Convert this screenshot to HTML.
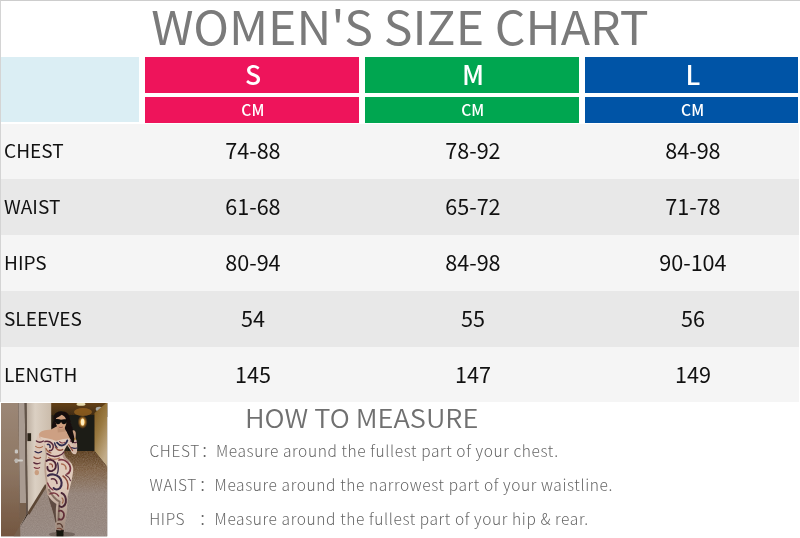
<!DOCTYPE html>
<html lang="en">
<head>
<meta charset="utf-8">
<title>Women's Size Chart</title>
<style>
html,body{margin:0;padding:0;background:#fff;}
body{width:800px;height:538px;position:relative;overflow:hidden;font-family:"Noto Sans CJK SC","Liberation Sans",sans-serif;color:#111;}
.abs{position:absolute;}
.frame{left:0;top:0;width:800px;height:402px;box-sizing:border-box;border-top:1px solid #cdcdcd;border-left:1px solid #d4d4d4;}
.title{left:0;top:-10px;width:800px;text-align:center;font-size:47px;line-height:70px;font-weight:400;color:#7a7a7a;white-space:nowrap;transform:scaleX(1.0255);transform-origin:400px 50%;}
.corner{left:1px;top:57px;width:137.5px;height:65.2px;background:#dbeef4;}
.hd{height:36px;top:57px;color:#fff;text-align:center;font-size:26.6px;line-height:33px;font-weight:500;text-indent:2px;}
.cm{height:25.6px;top:97px;color:#fff;text-align:center;font-size:15.6px;line-height:25px;font-weight:500;letter-spacing:0.1px;text-indent:1.5px;}
.s{left:145.2px;width:213.8px;background:#ee145b;}
.m{left:365px;width:214px;background:#00a650;}
.l{left:585.2px;width:213.3px;background:#0054a6;}
.row{left:1px;width:798px;height:56px;}
.r1{top:124.4px;height:54.6px;background:#f5f5f5;}
.r2{top:179px;background:#e8e8e8;}
.r3{top:235px;background:#f5f5f5;}
.r4{top:291px;background:#e8e8e8;}
.r5{top:347px;height:55px;background:#f5f5f5;}
.lab{left:3px;top:-1px;font-size:18px;line-height:56px;height:56px;white-space:nowrap;transform:scaleX(1.06);transform-origin:0 50%;}
.v{width:214px;text-align:center;font-size:21.6px;line-height:56px;height:56px;top:-1px;}
.r1 .lab,.r1 .v{margin-top:-1.4px;}
.v1{left:144.9px;}.v2{left:364.9px;}.v3{left:584.9px;}
.photo{left:2px;top:403px;width:106px;height:133px;overflow:hidden;}
.how{left:244.6px;top:397.6px;font-size:25.6px;line-height:38px;font-weight:350;color:#707070;white-space:nowrap;transform:scaleX(1.062);transform-origin:0 50%;}
.ln{left:149px;font-size:15.5px;line-height:24px;font-weight:300;color:#666;white-space:nowrap;letter-spacing:0.62px;}
</style>
</head>
<body>
<div class="abs frame"></div>
<div class="abs title">WOMEN'S SIZE CHART</div>
<div class="abs corner"></div>
<div class="abs hd s">S</div><div class="abs hd m">M</div><div class="abs hd l">L</div>
<div class="abs cm s">CM</div><div class="abs cm m">CM</div><div class="abs cm l">CM</div>

<div class="abs row r1"><div class="abs lab">CHEST</div><div class="abs v v1">74-88</div><div class="abs v v2">78-92</div><div class="abs v v3">84-98</div></div>
<div class="abs row r2"><div class="abs lab">WAIST</div><div class="abs v v1">61-68</div><div class="abs v v2">65-72</div><div class="abs v v3">71-78</div></div>
<div class="abs row r3"><div class="abs lab">HIPS</div><div class="abs v v1">80-94</div><div class="abs v v2">84-98</div><div class="abs v v3">90-104</div></div>
<div class="abs row r4"><div class="abs lab">SLEEVES</div><div class="abs v v1">54</div><div class="abs v v2">55</div><div class="abs v v3">56</div></div>
<div class="abs row r5"><div class="abs lab">LENGTH</div><div class="abs v v1">145</div><div class="abs v v2">147</div><div class="abs v v3">149</div></div>

<!--PHOTO--><svg class="abs" style="left:1.3px;top:403.2px;width:106.4px;height:133.4px" viewBox="0 0 106.4 133.4" preserveAspectRatio="none">
<defs>
<linearGradient id="gd" x1="0" y1="0" x2="0" y2="1"><stop offset="0" stop-color="#9c8776"/><stop offset=".5" stop-color="#8d7663"/><stop offset="1" stop-color="#735640"/></linearGradient>
<linearGradient id="gw" x1="0" y1="0" x2="1" y2="0"><stop offset="0" stop-color="#bcaea0"/><stop offset=".35" stop-color="#dbd0c3"/><stop offset="1" stop-color="#cbbcab"/></linearGradient>
<linearGradient id="gf" x1="0" y1="0" x2="0" y2="1"><stop offset="0" stop-color="#5a3c1c"/><stop offset=".22" stop-color="#7e6044"/><stop offset=".5" stop-color="#928177"/><stop offset="1" stop-color="#94867f"/></linearGradient>
<linearGradient id="gr" x1="0" y1="0" x2="0.5" y2="1"><stop offset="0" stop-color="#7c561c"/><stop offset=".5" stop-color="#9a7a42"/><stop offset="1" stop-color="#c2ac8a"/></linearGradient>
<linearGradient id="gc" x1="0" y1="0" x2="0" y2="1"><stop offset="0" stop-color="#6a4418"/><stop offset="1" stop-color="#3a2810"/></linearGradient>
<linearGradient id="gl" gradientUnits="userSpaceOnUse" x1="0" y1="84" x2="0" y2="132"><stop offset="0" stop-color="#4a3428" stop-opacity="0"/><stop offset="1" stop-color="#4a3428" stop-opacity=".5"/></linearGradient>
<radialGradient id="gs" cx=".5" cy=".5" r=".5"><stop offset="0" stop-color="#fff0c0"/><stop offset=".35" stop-color="#f0a840"/><stop offset="1" stop-color="#b06818" stop-opacity="0"/></radialGradient>
<filter id="bl" x="-5%" y="-5%" width="110%" height="110%"><feGaussianBlur stdDeviation="0.45"/></filter>
<filter id="nz" x="0" y="0" width="100%" height="100%"><feTurbulence type="fractalNoise" baseFrequency="0.9" numOctaves="2" seed="4" result="n"/><feColorMatrix type="matrix" values="0 0 0 0 0.55  0 0 0 0 0.48  0 0 0 0 0.43  0.9 0.9 0 0 -0.62"/><feComposite in2="SourceGraphic" operator="in"/></filter>
<clipPath id="cp"><rect x="0" y="0" width="106.4" height="133.4"/></clipPath>
</defs>
<g clip-path="url(#cp)">
<rect width="106.4" height="133.4" fill="#30241a"/>
<g filter="url(#bl)">
<!-- ceiling and hall -->
<rect x="50" y="-2" width="58" height="16" fill="url(#gc)"/>
<rect x="66" y="12" width="29" height="38" fill="#1f1a12"/>
<polygon points="50,12 67,12 67,50 50,50" fill="#2a2016"/>
<ellipse cx="80" cy="1.2" rx="4.5" ry="1.6" fill="#e8dcb0"/>
<ellipse cx="82" cy="9" rx="9" ry="4" fill="#a06a24" opacity=".7"/>
<ellipse cx="98.3" cy="6" rx="3.6" ry="2.3" fill="#a9a9a4"/>
<!-- right wall -->
<polygon points="93.5,10 106.4,-1 106.4,64 93.5,48" fill="url(#gr)"/>
<polygon points="100,66 106.4,62 106.4,76" fill="#bba88e"/>
<!-- floor -->
<polygon points="50,48 93.5,48 106.4,64 106.4,133.4 13,133.4 27.5,110.4 44.5,82 50,74" fill="url(#gf)"/>
<polygon points="50,48 93.5,48 106.4,64 106.4,133.4 13,133.4 27.5,110.4 44.5,82 50,74" fill="#fff" filter="url(#nz)" opacity=".38"/>
<!-- sconce -->
<ellipse cx="81.6" cy="19" rx="5" ry="7" fill="url(#gs)"/>
<ellipse cx="81.6" cy="19" rx="1.7" ry="3.6" fill="#ffeec0"/>
<!-- wall -->
<polygon points="25.4,0 50.2,0 50.2,76 44.5,83 27,111 26.6,111" fill="url(#gw)"/>
<line x1="45.2" y1="82" x2="27.2" y2="111" stroke="#5c4636" stroke-width="2.6"/>
<rect x="26.4" y="30.2" width="3.7" height="7.9" fill="#2c2118"/>
<!-- door + frame -->
<polygon points="0,0 17.4,0 19.2,133.4 0,133.4" fill="url(#gd)"/>
<polygon points="17.4,0 23.7,0 25.3,112 14,133.4 19.2,133.4" fill="#a99b91"/>
<polygon points="19.2,133.4 18.7,100 25.2,100 25.3,112 12.5,133.4" fill="#77604e"/>
<polygon points="23.7,0 25.5,0 26.8,111 25.2,112" fill="#64544a"/>
<rect x="13.8" y="46.6" width="3.2" height="3.8" rx="1.2" fill="#c9c6c2"/>
<rect x="13.4" y="56.6" width="8.6" height="2" rx="1" fill="#d2cfca"/>
<rect x="13.8" y="55.4" width="3" height="4.6" rx="1.2" fill="#bdb9b4"/>
</g>
<!-- woman -->
<g filter="url(#bl)">
<ellipse cx="61" cy="131.4" rx="13" ry="2.6" fill="#3e3028" opacity=".4"/>
<!-- hair back -->
<path d="M52.6,16 C52.2,10.4 56.4,8.2 60.8,8.3 C65.6,8.4 68.4,11 68.8,15.6 C69.4,21 72.4,26.4 73.6,31.6 C74.6,36.6 73.4,41 71,41 C68,38.6 65,34.6 62,31.4 L54.6,28 C51,27 50.4,23.6 51.2,21 C52,19.4 52.6,18 52.6,16 Z" fill="#15100e"/>
<!-- right arm (viewer right) -->
<path d="M65.6,33.4 C69.6,31.6 73.4,36 75.4,41 C76.6,45 76.4,49.4 74.8,51 C72.6,51.8 70.8,50.2 69.6,47.2 L65.2,40.6 Z" fill="#d8c0b0"/>
<path d="M75,50.2 C76.8,46 76.4,40 75.2,36.6 L72,35.2 C72.4,40 72.2,45 71.2,48.8 Z" fill="#d3b7a6"/>
<path d="M71.6,27.4 C73.2,26.6 74.8,28 74.8,30.6 L74.6,35.4 L71.4,35.4 C71,32.6 70.8,29.6 71.6,27.4 Z" fill="#c99e82"/>
<rect x="71.1" y="35.2" width="3.8" height="1.6" fill="#c2923a"/>
<!-- left arm -->
<path d="M38.2,30.5 C35.6,33 35,38 34.4,44 C33.6,50 32.2,56 32.6,61 C32.8,64.5 33.6,67.6 35,69 C36.6,70 38.4,68.6 38.6,66.4 C38.8,60.5 39.8,54.5 40.8,49.6 C41.8,45 43,41 43.6,36.6 Z" fill="#dcc5b6"/>
<ellipse cx="35.8" cy="69.6" rx="2.2" ry="2.7" fill="#c99e80"/>
<!-- shoulders / skin -->
<path d="M38,31 C39.4,27.8 44,26.8 50,26.4 L56.4,23 L63.6,24.5 C64.2,28 67,30.6 69.6,32.6 L68.6,37 L55.4,38.6 L38.6,35 Z" fill="#cda083"/>
<!-- torso + legs -->
<path d="M38.6,33.6 C44,35.6 50,35.4 55.2,38 C59.5,36.4 64.6,35.4 68.6,35.6 C67.6,40 65.6,43.6 63.4,47 C62,50 63.6,53.4 66.6,56 C70.4,59 72.6,63 72.2,68 C71.4,76 69,84 66.8,92.3 C66.4,97 66.2,101.6 66,106 C65.6,111 64.6,116 64,120 C63.6,124 63,127.6 62.7,130.8 L55.1,130.8 C54.8,127 54.6,123.4 54.4,119.8 C53.6,115 52.4,110.4 51,106 C49.4,101.4 47.8,96.8 46.8,92.3 C45.6,88 45,83.4 44.8,78.6 C44.2,74 43.2,69.4 43.4,64.8 C43,60 44.6,55.6 44.7,51.5 C44.4,47.6 43.4,44 43.3,40.4 C42.6,38.6 40.6,36.6 38.6,33.6 Z" fill="#dfcabb"/>
<!-- body shading -->
<path d="M43.3,40.4 C44.4,44 45.6,47.6 46.2,51.5 C46,56 44.8,60 45,64.8 C45.2,69.4 46,74 46.6,78.6 C47,83 47.6,88 48.8,92 L46.8,92.3 C45.6,88 45,83.4 44.8,78.6 C44.2,74 43.2,69.4 43.4,64.8 C43,60 44.6,55.6 44.7,51.5 C44.4,47.6 43.4,44 43.3,40.4 Z" fill="#a88b7a" opacity=".7"/>
<path d="M63.4,47 C62,50 63.6,53.4 66.6,56 C68,57.2 69.4,58.6 70.4,60 C67.6,59.4 64.6,57.6 62.4,55 C60.8,52.6 61.4,49.4 63.4,47 Z" fill="#8a6a5c" opacity=".55"/>
<!-- shading back leg -->
<path d="M46.8,92 C49,96 52,99 55.4,101 C54.6,106 54.6,112 55.4,119 L54.4,119.8 C53.6,115 52.4,110.4 51,106 C49.4,101.4 47.8,96.8 46.8,92.3 Z" fill="#4e3c34" opacity=".85"/>
<path d="M47.6,86 C50.6,92 55,97 58.6,98.6 C58,104 57.6,110 57.4,118" stroke="#5e463c" stroke-width="1.8" fill="none" opacity=".65"/>
<!-- swirls -->
<g fill="none" stroke-linecap="round">
<path d="M44,38.6 C47,37.6 50.6,39 52,42 C53,45 51,48 48.4,47.6" stroke="#5a2b3c" stroke-width="1.6"/>
<path d="M46.4,41.4 C48.4,41 49.6,42.6 49,44.4" stroke="#2f2b4e" stroke-width="1.5"/>
<path d="M45,45.6 C46,48 47.6,49.6 50,50" stroke="#9a5a40" stroke-width="1.2"/>
<path d="M56,39.6 C58,42 60.4,43.6 63.6,41.6 C65,40.6 66,38.6 66.4,37.4" stroke="#2f2b4e" stroke-width="1.8"/>
<path d="M53.6,40 C54,42 54.6,43.6 56,44.6" stroke="#2f2b4e" stroke-width="1.4"/>
<path d="M54.4,44 C56,47 58.6,48 61.6,46.6" stroke="#8d4a3a" stroke-width="1.4"/>
<path d="M58.6,38.6 C60,40 62,40.4 63.6,39.4" stroke="#7a3440" stroke-width="1.1"/>
<path d="M46,50.6 C49,53 53,54 57,53 C60,52.4 62,50.6 63,49" stroke="#5a2b3c" stroke-width="1.4"/>
<path d="M47.6,54.6 C50.6,56.6 55,56.6 58.6,55" stroke="#a8684a" stroke-width="1.1"/>
<path d="M45.4,58 C48,56 52,56.6 54,59.6 C56,63 54.6,67 51,68 C48,68.6 46,66.6 46.4,64" stroke="#4a2436" stroke-width="1.9"/>
<path d="M48.6,61 C50.4,60.4 52,62 51.4,64" stroke="#8d4a3a" stroke-width="1.2"/>
<path d="M58,57 C61.6,56 66,58 68.6,62 C70.4,66 69,70 66,71" stroke="#7a3440" stroke-width="1.8"/>
<path d="M60.6,61 C63,61 65.4,63 65,66" stroke="#a8684a" stroke-width="1.4"/>
<path d="M56.6,60 C57.6,64 57.6,68 56,71" stroke="#3a2a48" stroke-width="1.3"/>
<path d="M47,72.6 C50,70.6 55,71 58,74 C61,77 61.6,82 59,85 C57,87 54,87 52.6,85" stroke="#3a2a48" stroke-width="2.1"/>
<path d="M50.4,76 C53,75 56,77 56,80.6" stroke="#5a2b3c" stroke-width="1.5"/>
<path d="M62,73 C65.6,75 68,80 66.6,86" stroke="#8d4a3a" stroke-width="1.5"/>
<path d="M64.6,72 C66.6,73 68.6,75 69.4,77.6" stroke="#5a2b3c" stroke-width="1.2"/>
<path d="M46.6,80 C47.6,83 49.4,85.6 52,87" stroke="#7a3440" stroke-width="1.3"/>
<path d="M49,91 C52,89 56,90 57.6,93" stroke="#7a3440" stroke-width="1.5"/>
<path d="M60.6,90 C63.6,91 65.6,95 64.8,99.6 C63.8,104 60,105 58.6,103" stroke="#4a2436" stroke-width="2"/>
<path d="M61,95 C62.4,96 62.6,98.6 61.4,100" stroke="#a8684a" stroke-width="1.2"/>
<path d="M58,108 C60.6,107 63.4,109 63,112.6 C62.6,116 60,117.6 58,116" stroke="#6a2c3e" stroke-width="1.8"/>
<path d="M56.6,121 C58.6,120 61,121 61.4,124" stroke="#5a3a30" stroke-width="1.4"/>
<path d="M56.4,125.6 C58,125 60.4,125.6 61.4,127" stroke="#8d4a3a" stroke-width="1.1"/>
<path d="M35.4,38 C37.6,39.6 40,39.6 42.4,38" stroke="#5a2b3c" stroke-width="1.3"/>
<path d="M34.6,43.4 C36.6,45 39.4,45 41.6,43.6" stroke="#a8684a" stroke-width="1.1"/>
<path d="M34,48.6 C36,50.2 38.6,50.2 40.6,48.6" stroke="#2f2b4e" stroke-width="1.3"/>
<path d="M33,54 C35,55.6 37.6,55.6 39.6,54.4" stroke="#8d4a3a" stroke-width="1.2"/>
<path d="M32.8,59.6 C34.8,61 37,61 39,60" stroke="#5a2b3c" stroke-width="1.3"/>
<path d="M33.2,64.6 C35,65.6 37,65.6 38.6,64.6" stroke="#7a3440" stroke-width="1.1"/>
<path d="M69.6,38 C71.6,39.6 73.6,40 75.4,39.4" stroke="#5a2b3c" stroke-width="1.2"/>
<path d="M70.6,44.6 C72.4,45.6 74.4,45.6 76,45" stroke="#2f2b4e" stroke-width="1.2"/>
<path d="M67.6,41.6 C69,43.6 70.4,45.6 71.6,47.6" stroke="#8d4a3a" stroke-width="1.1"/>
</g>
<path d="M45.2,84 L68.8,84 C68,87 67.4,89.6 66.8,92.3 C66.4,97 66.2,101.6 66,106 C65.6,111 64.6,116 64,120 C63.6,124 63,127.6 62.7,130.8 L55.1,130.8 C54.8,127 54.6,123.4 54.4,119.8 C53.6,115 52.4,110.4 51,106 C49.4,101.4 47.8,96.8 46.8,92.3 C46,89.6 45.6,87 45.2,84 Z" fill="url(#gl)"/>
<!-- shoes -->
<path d="M55.2,126.8 C57,127.6 61,127.6 62.8,126.8 L62.4,133.4 L55.6,133.4 Z" fill="#18120f"/>
<!-- neck + face -->
<path d="M56.4,22 L63.6,22 L64.2,28.6 L56.8,29.4 Z" fill="#bf9274"/>
<ellipse cx="60" cy="18.6" rx="5.3" ry="7.6" fill="#cf9f80" transform="rotate(-6 60 18.6)"/>
<path d="M54,15.4 C54.4,10.8 57.6,9.2 60.6,9.3 C64.4,9.5 66.8,11.6 66.4,15.8 C64.6,14 62.6,12.6 60.6,11.8 C58.6,13.4 56.2,14.8 54,15.4 Z" fill="#15100e"/>
<path d="M53.8,16.4 C56,15.8 58.4,16 60,16.8 C61.8,16 64.2,16 66,16.6 C66.2,19 65.2,21.2 63,21.2 C61.4,21.2 60.5,20 60.1,18.8 C59.6,20.2 58.6,21.2 57,21.2 C55,21.2 53.8,19 53.8,16.4 Z" fill="#0d0a09"/>
<path d="M57.8,24 C59,24.7 60.6,24.7 61.8,24" stroke="#94544c" stroke-width=".9" fill="none"/>
<!-- hair strand right side over shoulder -->
<path d="M65.6,13.6 C68.4,18 70.4,24 72.2,30 C73.6,34.6 74,38.6 71.8,40.6 C69.8,37 67.8,33.6 66.2,30 C66.6,25 66.6,19 65.6,13.6 Z" fill="#15100e"/>
</g>
</g>
</svg>
<!--/PHOTO-->
<div class="abs how">HOW TO MEASURE</div>
<div class="abs ln" style="top:437.8px"><span class="abs k" style="left:0.5px">CHEST</span><span class="abs c" style="left:51.8px">：</span><span class="abs t" style="left:67px">Measure around the fullest part of your chest.</span></div>
<div class="abs ln" style="top:471.8px"><span class="abs k" style="left:0.5px">WAIST</span><span class="abs c" style="left:49.8px">：</span><span class="abs t" style="left:65.6px">Measure around the narrowest part of your waistline.</span></div>
<div class="abs ln" style="top:505.8px"><span class="abs k" style="left:0.2px">HIPS</span><span class="abs c" style="left:49.8px">：</span><span class="abs t" style="left:65.6px">Measure around the fullest part of your hip &amp; rear.</span></div>
</body>
</html>
